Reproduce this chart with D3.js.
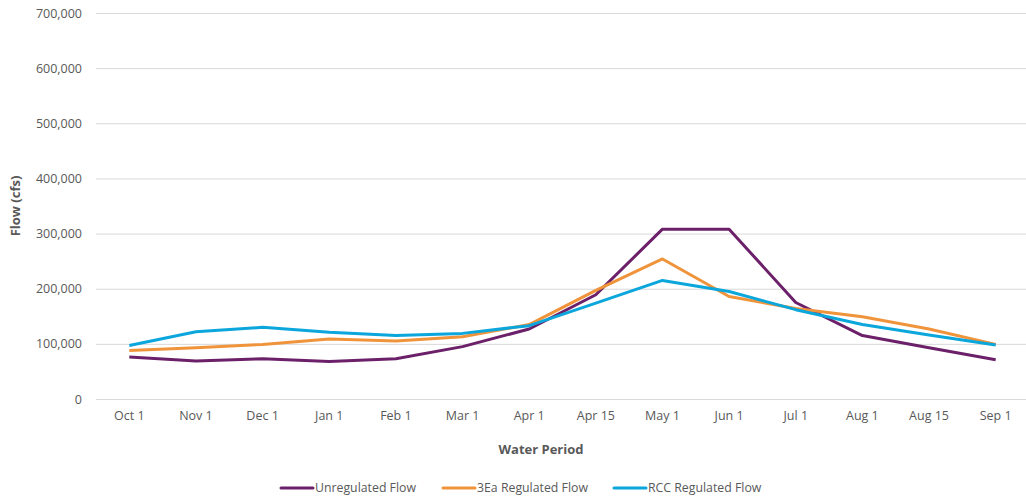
<!DOCTYPE html>
<html>
<head>
<meta charset="utf-8">
<script src="https://cdn.jsdelivr.net/npm/d3@7"></script>
<style>
  body { margin: 0; background: #fff; }
  svg text { font-family: "Open Sans", "Liberation Sans", sans-serif; fill: #595959; }
</style>
</head>
<body>
<svg id="chart" width="1026" height="501"></svg>
<script>
const periods = ["Oct 1", "Nov 1", "Dec 1", "Jan 1", "Feb 1", "Mar 1", "Apr 1", "Apr 15", "May 1", "Jun 1", "Jul 1", "Aug 1", "Aug 15", "Sep 1"];
const unregulated = [76000, 69000, 73000, 68000, 73000, 95000, 127000, 189000, 308000, 308000, 175000, 115000, 93000, 71000];
const regulated3Ea = [88000, 93000, 99000, 109000, 105000, 113000, 135000, 197000, 254000, 186000, 164000, 149000, 127000, 99000];
const regulatedRCC = [97000, 122000, 130000, 121000, 115000, 119000, 133000, 174000, 215000, 195000, 162000, 135000, 116000, 98000];
const yTicks = [0, 100000, 200000, 300000, 400000, 500000, 600000, 700000];

const series = [
  { name: "Unregulated Flow", values: unregulated, color: "#6B2069" },
  { name: "3Ea Regulated Flow", values: regulated3Ea, color: "#F0943B" },
  { name: "RCC Regulated Flow", values: regulatedRCC, color: "#0BA6DC" }
];

let svg = d3.select("#chart");
let plotLeft = 96, plotRight = 1029, plotTop = 13, plotBottom = 399;

let x = d3.scaleBand().domain(periods).range([plotLeft, plotRight]).padding(0);
let y = d3.scaleLinear().domain([0, 700000]).range([plotBottom, plotTop]);

// gridlines
svg.append("g")
   .selectAll("line")
   .data(yTicks)
   .enter().append("line")
   .attr("x1", plotLeft).attr("x2", 1026)
   .attr("y1", d => y(d) + 0.5).attr("y2", d => y(d) + 0.5)
   .attr("stroke", "#D9D9D9")
   .attr("stroke-width", 1);

// y axis labels
let yAxis = svg.append("g")
   .attr("transform", "translate(" + plotLeft + ",0)")
   .call(d3.axisLeft(y).tickValues(yTicks).tickSize(0).tickPadding(14).tickFormat(d3.format(",")));
yAxis.select(".domain").remove();
yAxis.selectAll("text").style("font-size", "12.5px").attr("fill", "#595959");

// x axis labels
let xAxis = svg.append("g")
   .attr("transform", "translate(0," + plotBottom + ")")
   .call(d3.axisBottom(x).tickSize(0).tickPadding(12));
xAxis.select(".domain").remove();
xAxis.selectAll("text").style("font-size", "12.5px").attr("fill", "#595959");

// axis titles
svg.append("text")
   .attr("transform", "translate(20,206) rotate(-90)")
   .attr("text-anchor", "middle")
   .style("font-size", "13px")
   .style("font-weight", "bold")
   .text("Flow (cfs)");

svg.append("text")
   .attr("x", 541)
   .attr("y", 454)
   .attr("text-anchor", "middle")
   .style("font-size", "13px")
   .style("font-weight", "bold")
   .text("Water Period");

// lines
let line = d3.line()
   .x((d, i) => x(periods[i]) + x.bandwidth() / 2)
   .y(d => y(d));

svg.append("g")
   .selectAll("path")
   .data(series)
   .enter().append("path")
   .attr("d", d => line(d.values))
   .attr("fill", "none")
   .attr("stroke", d => d.color)
   .attr("stroke-width", 3)
   .attr("stroke-linejoin", "round");

// legend
const legendX = [281, 443, 614];
let legend = svg.append("g")
   .selectAll("g")
   .data(series)
   .enter().append("g")
   .attr("transform", (d, i) => "translate(" + legendX[i] + ",488)");
legend.append("line")
   .attr("x1", 0).attr("x2", 32)
   .attr("stroke", d => d.color)
   .attr("stroke-width", 3)
   .attr("stroke-linecap", "round");
legend.append("text")
   .attr("x", 34)
   .attr("dy", "0.35em")
   .style("font-size", "12.3px")
   .text(d => d.name);
</script>
</body>
</html>
